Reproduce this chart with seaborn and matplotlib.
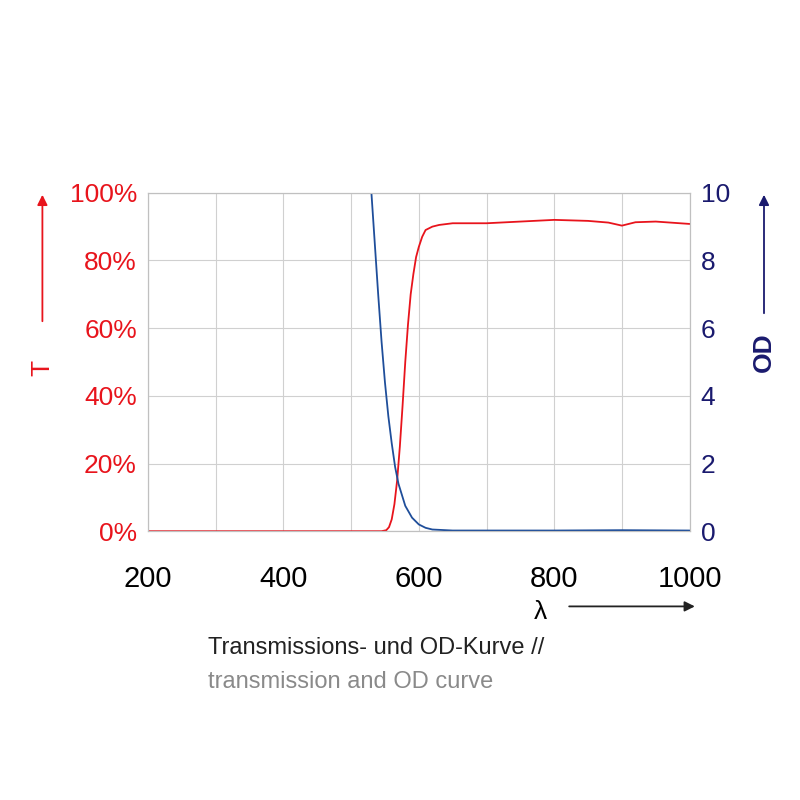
import matplotlib
matplotlib.use("Agg")
import matplotlib.pyplot as plt
import seaborn as sns
import pandas as pd

wl_T = [200, 545, 552, 556, 560, 564, 568, 572, 576, 580, 584, 588, 592, 596, 600, 605, 610, 620, 630, 650, 700, 750, 800, 850, 880, 900, 920, 950, 1000]
T = [0, 0, 0.3, 1.2, 3.5, 8, 15, 25, 37, 50, 61, 70, 76, 81, 84, 87, 89, 90, 90.5, 91, 91, 91.5, 92, 91.7, 91.2, 90.3, 91.3, 91.5, 90.8]
wl_OD = [530, 535, 540, 545, 550, 555, 560, 565, 570, 580, 590, 600, 610, 620, 650, 700, 800, 900, 1000]
OD = [10, 8.5, 7.0, 5.6, 4.4, 3.4, 2.6, 1.9, 1.4, 0.75, 0.4, 0.2, 0.1, 0.05, 0.02, 0.02, 0.02, 0.03, 0.02]
x_ticks = [200, 400, 600, 800, 1000]

RED = "#e8141c"
NAVY = "#1a1a6e"
BLUE = "#1f4e9a"

sns.set_theme(style="white")
plt.rcParams['font.family'] = ['Liberation Sans', 'DejaVu Sans']

fig = plt.figure(figsize=(8, 8), dpi=100)
ax = fig.add_axes([0.185, 0.336, 0.677, 0.423])
ax2 = ax.twinx()

sns.lineplot(data=pd.DataFrame({"wl": wl_T, "T": T}), x="wl", y="T", ax=ax, color=RED, lw=1.3)
sns.lineplot(data=pd.DataFrame({"wl": wl_OD, "OD": OD}), x="wl", y="OD", ax=ax2, color=BLUE, lw=1.3)

ax.set_xlim(200, 1000)
ax.set_ylim(0, 100)
ax2.set_ylim(0, 10)
ax.set_xticks(x_ticks)
ax.set_xticks(range(200, 1001, 100), minor=True)
ax.set_yticks(range(0, 101, 20))
ax.set_yticklabels([f"{v}%" for v in range(0, 101, 20)], color=RED, fontsize=19)
ax2.set_yticks(range(0, 11, 2))
ax2.set_yticklabels([str(v) for v in range(0, 11, 2)], color=NAVY, fontsize=19)
ax.set_xticklabels([str(v) for v in x_ticks], fontsize=21, color="black")
ax.grid(True, which="both", color="#d0d0d0", lw=0.8)
ax.set_xlabel("")
ax.set_ylabel("")
ax2.set_ylabel("")
for a in (ax, ax2):
    for s in a.spines.values():
        s.set_color("#c0c0c0")
        s.set_linewidth(0.8)
    a.tick_params(length=0, pad=8)
ax.tick_params(axis="x", pad=24)

fig.text(0.053, 0.54, "T", color=RED, fontsize=19, rotation=90, ha="center", va="center")
fig.add_artist(matplotlib.patches.FancyArrowPatch((0.053, 0.595), (0.053, 0.76), transform=fig.transFigure,
               arrowstyle="-|>,head_width=3,head_length=6", color=RED, lw=1.3))
fig.text(0.955, 0.56, "OD", color=NAVY, fontsize=19, rotation=90, ha="center", va="center", fontweight="bold")
fig.add_artist(matplotlib.patches.FancyArrowPatch((0.955, 0.605), (0.955, 0.76), transform=fig.transFigure,
               arrowstyle="-|>,head_width=3,head_length=6", color=NAVY, lw=1.3))
fig.text(0.675, 0.235, "λ", color="black", fontsize=19, ha="center", va="center")
fig.add_artist(matplotlib.patches.FancyArrowPatch((0.708, 0.242), (0.872, 0.242), transform=fig.transFigure,
               arrowstyle="-|>,head_width=3,head_length=6", color="#222222", lw=1.3))

fig.text(0.26, 0.19, "Transmissions- und OD-Kurve //", fontsize=17, color="#222222", ha="left", va="center")
fig.text(0.26, 0.148, "transmission and OD curve", fontsize=17, color="#8a8a8a", ha="left", va="center")

fig.savefig("out.png", dpi=100, facecolor="white")
